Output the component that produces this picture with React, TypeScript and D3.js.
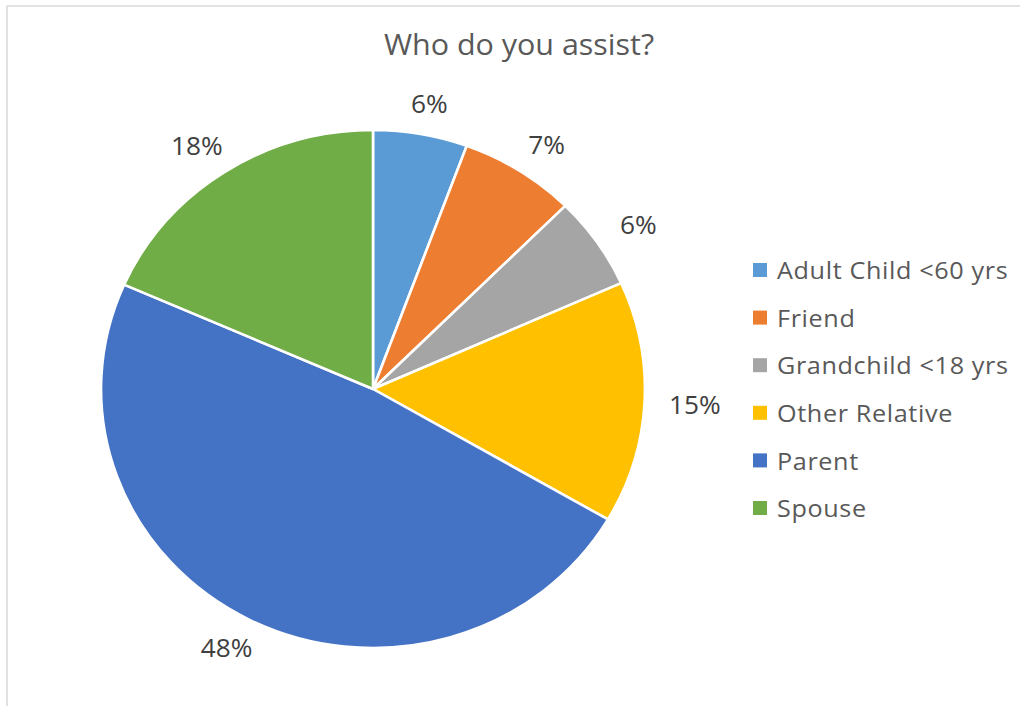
import React from "react";
import * as d3 from "d3";

const categories = ["Adult Child <60 yrs", "Friend", "Grandchild <18 yrs", "Other Relative", "Parent", "Spouse"];
const values = [5.6, 6.9, 5.8, 15.1, 48.2, 18.4];
const colors = ["#5b9bd5", "#ed7d31", "#a5a5a5", "#ffc000", "#4472c4", "#70ad47"];
const title = "Who do you assist?";

export default function App() {
  const W = 1020, H = 706;
  const cx = 373, cy = 389, r = 259, sx = 1.05;
  const pie = d3.pie<number>().sort(null).value((d) => d)(values);
  const arc = d3.arc<d3.PieArcDatum<number>>().innerRadius(0).outerRadius(r);
  const font = "'Open Sans', sans-serif";
  const legY = d3.scalePoint<string>().domain(categories).range([270, 508]);
  const g = 16, hw = 32, hh = 15;
  return (
    <svg width={W} height={H} style={{ position: "absolute", left: 0, top: 0, background: "#fff" }}>
      <line x1={7} y1={6} x2={W} y2={6} stroke="#d9d9d9" strokeWidth={1.5} />
      <line x1={7} y1={6} x2={7} y2={H} stroke="#d9d9d9" strokeWidth={1.5} />
      <g transform={`translate(519,55) scale(${sx},1)`}>
        <text x={0} y={0} textAnchor="middle" fontFamily={font} fontSize={29} fill="#595959">{title}</text>
      </g>
      <g transform={`translate(${cx},${cy}) scale(${sx},1)`}>
        {pie.map((p, i) => (
          <path key={i} d={arc(p) || ""} fill={colors[i]} stroke="#fff" strokeWidth={2.5} strokeLinejoin="round" />
        ))}
      </g>
      {pie.map((p, i) => {
        const a = (p.startAngle + p.endAngle) / 2;
        const s = Math.sin(a), c = Math.cos(a);
        const lx = (r + g + hw) * s;
        const ly = -(r + g + hh) * c;
        return (
          <g key={i} transform={`translate(${cx + lx * sx},${cy + ly}) scale(${sx},1)`}>
            <text x={0} y={0} textAnchor="middle" dominantBaseline="central"
              fontFamily={font} fontSize={25} fill="#404040">{`${Math.round(values[i])}%`}</text>
          </g>
        );
      })}
      {categories.map((c, i) => (
        <g key={c} transform={`translate(753,${legY(c)})`}>
          <rect x={0} y={-7} width={14} height={14} fill={colors[i]} />
          <g transform={`translate(24,0) scale(${sx},1)`}>
            <text x={0} y={0} dominantBaseline="central" fontFamily={font} fontSize={24}
              letterSpacing={0.6} fill="#595959">{c}</text>
          </g>
        </g>
      ))}
    </svg>
  );
}
